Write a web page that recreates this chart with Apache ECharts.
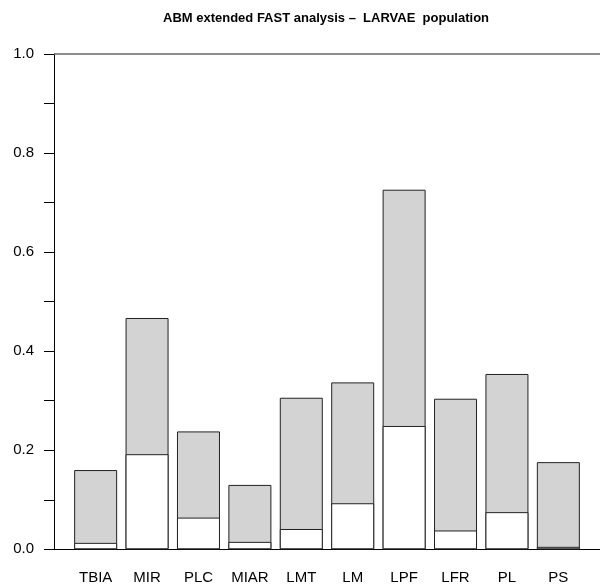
<!DOCTYPE html>
<html>
<head>
<meta charset="utf-8">
<script src="https://cdn.jsdelivr.net/npm/echarts@6/dist/echarts.min.js"></script>
<style>
  html, body { margin: 0; padding: 0; background: #fff; }
  #chart { width: 600px; height: 587px; }
</style>
</head>
<body>
<div id="chart"></div>
<script>
// parameters on the x axis
const categories = ['TBIA', 'MIR', 'PLC', 'MIAR', 'LMT', 'LM', 'LPF', 'LFR', 'PL', 'PS'];
// first order index (white part)
const firstOrder = [0.013, 0.192, 0.064, 0.015, 0.041, 0.093, 0.249, 0.038, 0.075, 0.005];
// total order index (top of grey part)
const totalOrder = [0.160, 0.467, 0.238, 0.130, 0.306, 0.337, 0.726, 0.304, 0.354, 0.176];

// barplot style positions: width 1, space 0.2
const xPos = categories.map((c, i) => 0.7 + 1.2 * i);

const font = 'Liberation Sans, Arial, Helvetica, sans-serif';

let chart = echarts.init(document.getElementById('chart'));
let option = {
  animation: false,
  title: {
    text: 'ABM extended FAST analysis \u2013  LARVAE  population',
    left: 158,
    top: 7,
    textStyle: { fontFamily: font, fontSize: 13, fontWeight: 'bold', color: '#000' }
  },
  grid: { left: 54, top: 54, width: 552, bottom: 37.7 },
  xAxis: {
    type: 'value',
    min: -0.272,
    max: 12.472,
    splitLine: { show: false },
    axisLine: { show: true, onZero: false, lineStyle: { color: '#000', width: 1 } },
    axisTick: { show: false },
    axisLabel: {
      customValues: xPos,
      margin: 21,
      fontFamily: font,
      fontSize: 15,
      color: '#000',
      formatter: v => {
        let i = xPos.findIndex(p => Math.abs(p - v) < 1e-6);
        return i >= 0 ? categories[i] : '';
      }
    }
  },
  yAxis: {
    type: 'value',
    min: 0,
    max: 1,
    interval: 0.2,
    splitLine: { show: false },
    axisLine: { show: true, onZero: false, lineStyle: { color: '#000', width: 1 } },
    axisTick: { show: true, length: 10, lineStyle: { color: '#000' } },
    minorTick: { show: true, splitNumber: 2, length: 10, lineStyle: { color: '#000' } },
    axisLabel: {
      margin: 20,
      fontFamily: font,
      fontSize: 15,
      color: '#000',
      formatter: v => v.toFixed(1)
    }
  },
  series: [
    {
      name: 'total',
      type: 'bar',
      barWidth: 43,
      barGap: '-100%',
      data: xPos.map((x, i) => [x, totalOrder[i]]),
      itemStyle: { color: '#d3d3d3', borderColor: '#222', borderWidth: 1 },
      markLine: {
        silent: true,
        symbol: 'none',
        label: { show: false },
        lineStyle: { color: '#666', width: 1.5, type: 'solid' },
        data: [{ yAxis: 1 }]
      }
    },
    {
      name: 'first',
      type: 'bar',
      barWidth: 43,
      barGap: '-100%',
      data: xPos.map((x, i) => [x, firstOrder[i]]),
      itemStyle: { color: '#ffffff', borderColor: '#222', borderWidth: 1 }
    }
  ]
};
chart.setOption(option);
</script>
</body>
</html>
